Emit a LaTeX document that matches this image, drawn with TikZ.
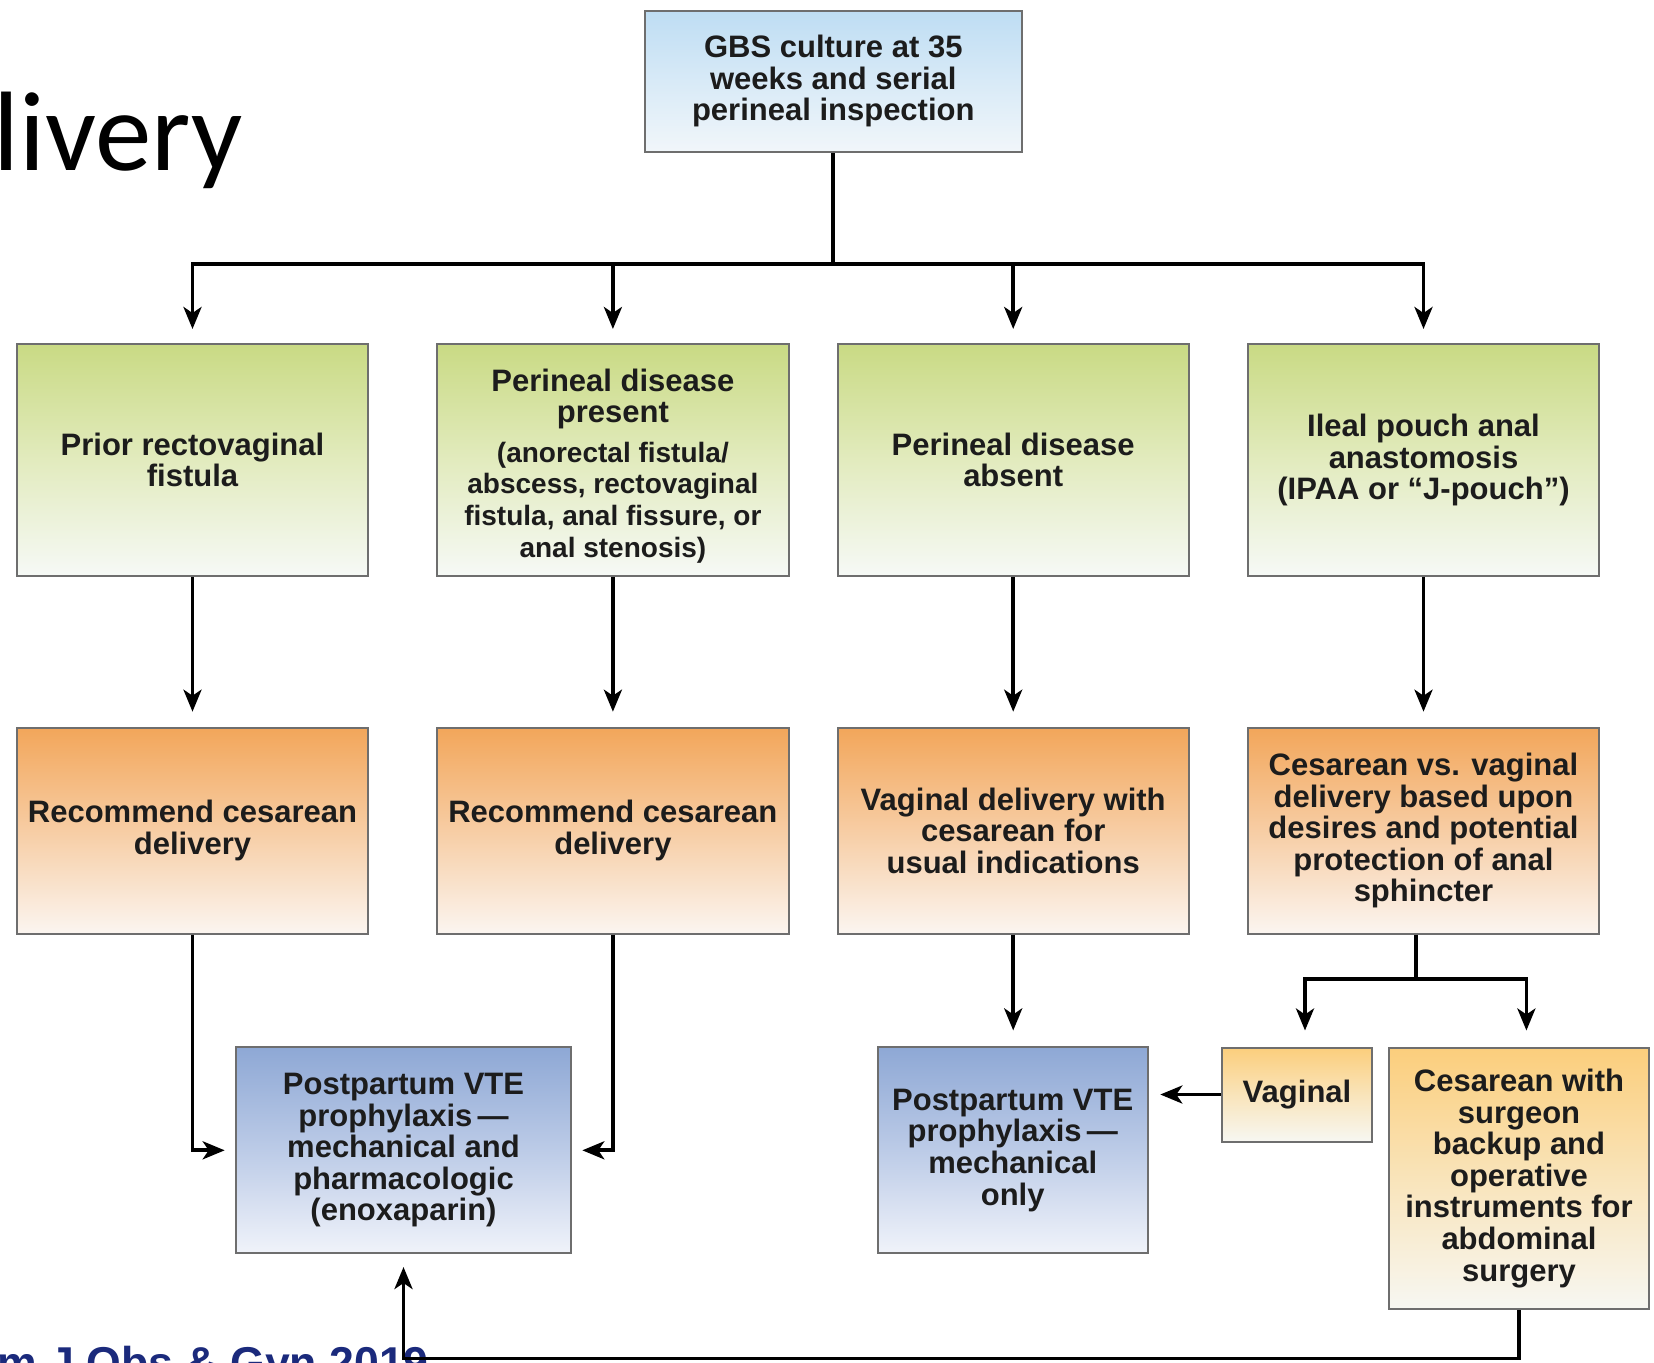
\documentclass[tikz,border=0pt]{standalone}
\usepackage{fontspec}
\setmainfont{Liberation Sans}
\newfontfamily\titlefont{Carlito}
\usetikzlibrary{arrows.meta,calc}
\definecolor{boxline}{HTML}{6E6E6E}
\definecolor{txt}{HTML}{1C1C1C}
\definecolor{skyT}{HTML}{BEDDF3}
\definecolor{skyM}{HTML}{D8EAF7}
\definecolor{skyB}{HTML}{F1F6FA}
\definecolor{grT}{HTML}{C9DA84}
\definecolor{grM}{HTML}{E2EBBE}
\definecolor{grB}{HTML}{F6F9F6}
\definecolor{orT}{HTML}{F2A65A}
\definecolor{orM}{HTML}{F7CDA4}
\definecolor{orB}{HTML}{FBF5F0}
\definecolor{blT}{HTML}{8EA8D5}
\definecolor{blM}{HTML}{BCCBE7}
\definecolor{blB}{HTML}{F0F3FA}
\definecolor{yeT}{HTML}{FBCE7C}
\definecolor{yeM}{HTML}{F9E4BA}
\definecolor{yeB}{HTML}{F7F7F2}
\definecolor{navy}{HTML}{1B2A7C}
\newcommand\bxfont{\fontsize{15.5pt}{15.8pt}\selectfont\bfseries}
\newcommand\smfont{\fontsize{14pt}{15.8pt}\selectfont\bfseries}
\begin{document}
\begin{tikzpicture}[x=0.5pt,y=-0.5pt,
  box/.style={draw=boxline,line width=1pt,inner sep=0pt,align=center,text=txt,font=\bxfont},
  fsky/.style={top color=skyT,bottom color=skyB,middle color=skyM},
  fgreen/.style={top color=grT,bottom color=grB,middle color=grM},
  forange/.style={top color=orT,bottom color=orB,middle color=orM},
  fblue/.style={top color=blT,bottom color=blB,middle color=blM},
  fyellow/.style={top color=yeT,bottom color=yeB,middle color=yeM},
  conn/.style={line width=1.9pt,draw=black},
  arr/.style={conn,-{Stealth[length=11pt,width=9pt,inset=3pt]}}]
\fill[white] (0,0) rectangle (1654,1362);
\useasboundingbox (0,0) rectangle (1654,1362);
\clip (0,0) rectangle (1654,1362);

% title fragment and source fragment
\node[anchor=base west,inner sep=0pt,font=\titlefont\fontsize{56.5pt}{62pt}\selectfont] (title) at (-7,170) {livery};
\node[anchor=base west,inner sep=0pt,text=navy,font=\fontsize{22.3pt}{24pt}\selectfont\bfseries] (src) at (-3,1378) {m J Obs \& Gyn 2019};

% boxes
\node[box,fsky,minimum width=188.8pt,minimum height=70.7pt] (top) at (833.3,81.2)
  {GBS culture at 35\\weeks and serial\\perineal inspection};

\node[box,fgreen,minimum width=175.6pt,minimum height=116pt] (g1) at (192.5,460)
  {Prior rectovaginal\\fistula};
\node[box,fgreen,minimum width=175.6pt,minimum height=116pt] (g2) at (612.9,460)
  {\rule{0pt}{17pt}Perineal disease\\present\\[4pt]\smfont (anorectal fistula/\\\smfont abscess, rectovaginal\\\smfont fistula, anal fissure, or\\\smfont anal stenosis)};
\node[box,fgreen,minimum width=175.6pt,minimum height=116pt] (g3) at (1013.2,460)
  {Perineal disease\\absent};
\node[box,fgreen,minimum width=175.6pt,minimum height=116pt] (g4) at (1423.5,460)
  {Ileal pouch anal\\anastomosis\\(IPAA or “J-pouch”)};

\node[box,forange,minimum width=175.6pt,minimum height=102.9pt] (o1) at (192.5,830.6)
  {Recommend cesarean\\delivery};
\node[box,forange,minimum width=175.6pt,minimum height=102.9pt] (o2) at (612.9,830.6)
  {Recommend cesarean\\delivery};
\node[box,forange,minimum width=175.6pt,minimum height=102.9pt] (o3) at (1013.2,830.6)
  {Vaginal delivery with\\cesarean for\\usual indications};
\node[box,forange,minimum width=175.6pt,minimum height=102.9pt] (o4) at (1423.5,830.6)
  {Cesarean vs. vaginal\\delivery based upon\\desires and potential\\protection of anal\\sphincter};

\node[box,fblue,minimum width=167.2pt,minimum height=102.9pt] (b1) at (403.5,1150.3)
  {Postpartum VTE\\prophylaxis\,—\\mechanical and\\pharmacologic\\(enoxaparin)};
\node[box,fblue,minimum width=135pt,minimum height=102.9pt] (b2) at (1012.7,1150.3)
  {Postpartum VTE\\prophylaxis\,—\\mechanical\\only};
\node[box,fyellow,minimum width=75.4pt,minimum height=47pt] (vag) at (1297,1094.5)
  {Vaginal};
\node[box,fyellow,minimum width=129.7pt,minimum height=130.8pt] (ces) at (1519,1178.3)
  {Cesarean with\\surgeon\\backup and\\operative\\instruments for\\abdominal\\surgery};

% junction points
\coordinate (br) at (833.3,263.7);
\coordinate (jn) at (1415.6,978.9);
\coordinate (bl) at (403.5,1358.5);

% connectors
\draw[conn] (top.south) -- (br);
\foreach \n in {g1,g2,g3,g4}
  \draw[arr,shorten >=7pt] (br) -| (\n.north);
\foreach \a/\b in {g1/o1,g2/o2,g3/o3,g4/o4}
  \draw[arr,shorten >=7.5pt] (\a.south) -- (\b.north);
\draw[arr,shorten >=5.3pt] (o1.south) |- (b1.west);
\draw[arr,shorten >=5.3pt] (o2.south) |- (b1.east);
\draw[arr,shorten >=8pt] (o3.south) -- (o3.south |- b2.north);
\draw[conn] (o4.south -| jn) -- (jn);
\draw[arr,shorten >=8pt] (jn) -| ([xshift=4pt]vag.north);
\draw[arr,shorten >=8pt] (jn) -| ([xshift=3.7pt]ces.north);
\draw[arr,shorten >=5.8pt] (vag.west) -- (vag.west -| b2.east);
\draw[arr,shorten >=6.4pt] (ces.south) |- (bl) -- (b1.south);
\end{tikzpicture}
\end{document}
